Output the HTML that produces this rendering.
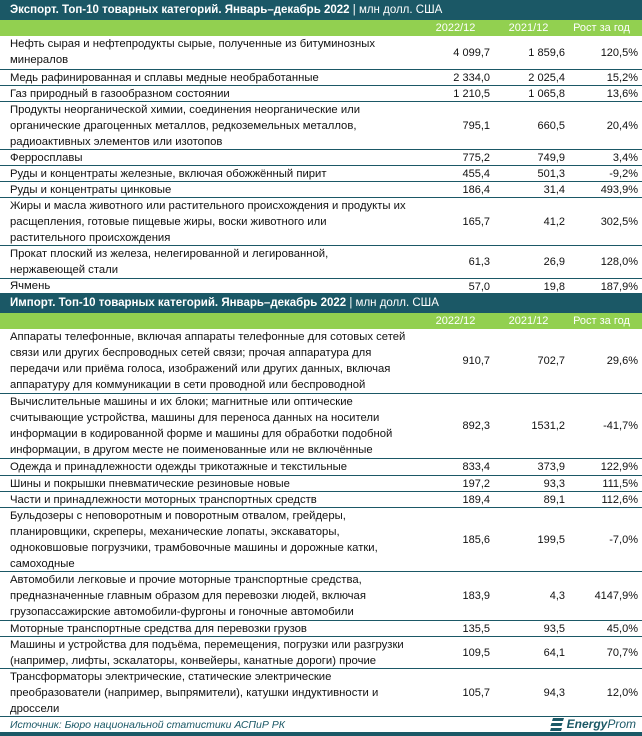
<!DOCTYPE html><html><head><meta charset="utf-8"><style>
*{margin:0;padding:0;box-sizing:border-box}
body{width:642px;height:736px;background:#fff;position:relative;overflow:hidden;font-family:"Liberation Sans",sans-serif;font-size:11px;color:#111}
.r{position:absolute;left:0;width:642px;border-bottom:1px solid #1b5866}
.t{position:absolute;left:0;width:642px;background:#1b5866;color:#fff;font-size:11.5px;line-height:20px;padding-left:10px}
.t b{font-weight:bold}
.h{position:absolute;left:0;width:642px;background:#92d050;color:#fff;height:16px;line-height:16px}
.l{position:absolute;left:10px;top:0;line-height:16px;white-space:nowrap;font-size:11.3px}
.v{position:absolute;top:0;bottom:0;display:flex;align-items:center;justify-content:flex-end}
.a{right:152px}.b{right:77px}.c{right:4px}
.hc{position:absolute;top:0;width:75px;text-align:center}
</style></head><body>
<div class="t" style="top:0;height:20px"><b>Экспорт. Топ-10 товарных категорий. Январь–декабрь 2022</b> | млн долл. США</div>
<div class="h" style="top:20px"><span class="hc" style="left:418px">2022/12</span><span class="hc" style="left:491px">2021/12</span><span class="hc" style="left:564px">Рост за год</span></div>

<div class="r" style="top:36px;height:34px"><div class="l">Нефть сырая и нефтепродукты сырые, полученные из битуминозных<br>минералов</div><div class="v a">4 099,7</div><div class="v b">1 859,6</div><div class="v c">120,5%</div></div>
<div class="r" style="top:70px;height:16px"><div class="l">Медь рафинированная и сплавы медные необработанные</div><div class="v a">2 334,0</div><div class="v b">2 025,4</div><div class="v c">15,2%</div></div>
<div class="r" style="top:86px;height:16px"><div class="l">Газ природный в газообразном состоянии</div><div class="v a">1 210,5</div><div class="v b">1 065,8</div><div class="v c">13,6%</div></div>
<div class="r" style="top:102px;height:48px"><div class="l">Продукты неорганической химии, соединения неорганические или<br>органические драгоценных металлов, редкоземельных металлов,<br>радиоактивных элементов или изотопов</div><div class="v a">795,1</div><div class="v b">660,5</div><div class="v c">20,4%</div></div>
<div class="r" style="top:150px;height:16px"><div class="l">Ферросплавы</div><div class="v a">775,2</div><div class="v b">749,9</div><div class="v c">3,4%</div></div>
<div class="r" style="top:166px;height:16px"><div class="l">Руды и концентраты железные, включая обожжённый пирит</div><div class="v a">455,4</div><div class="v b">501,3</div><div class="v c">-9,2%</div></div>
<div class="r" style="top:182px;height:16px"><div class="l">Руды и концентраты цинковые</div><div class="v a">186,4</div><div class="v b">31,4</div><div class="v c">493,9%</div></div>
<div class="r" style="top:198px;height:48px"><div class="l">Жиры и масла животного или растительного происхождения и продукты их<br>расщепления, готовые пищевые жиры, воски животного или<br>растительного происхождения</div><div class="v a">165,7</div><div class="v b">41,2</div><div class="v c">302,5%</div></div>
<div class="r" style="top:246px;height:33px"><div class="l">Прокат плоский из железа, нелегированной и легированной,<br>нержавеющей стали</div><div class="v a">61,3</div><div class="v b">26,9</div><div class="v c">128,0%</div></div>
<div class="r" style="top:279px;height:15px;border-bottom:none"><div class="l" style="top:-1px">Ячмень</div><div class="v a">57,0</div><div class="v b">19,8</div><div class="v c">187,9%</div></div>

<div class="t" style="top:293px;height:20px"><b>Импорт. Топ-10 товарных категорий. Январь–декабрь 2022</b> | млн долл. США</div>
<div class="h" style="top:313px"><span class="hc" style="left:418px">2022/12</span><span class="hc" style="left:491px">2021/12</span><span class="hc" style="left:564px">Рост за год</span></div>

<div class="r" style="top:329px;height:65px"><div class="l">Аппараты телефонные, включая аппараты телефонные для сотовых сетей<br>связи или других беспроводных сетей связи; прочая аппаратура для<br>передачи или приёма голоса, изображений или других данных, включая<br>аппаратуру для коммуникации в сети проводной или беспроводной</div><div class="v a">910,7</div><div class="v b">702,7</div><div class="v c">29,6%</div></div>
<div class="r" style="top:394px;height:65px"><div class="l">Вычислительные машины и их блоки; магнитные или оптические<br>считывающие устройства, машины для переноса данных на носители<br>информации в кодированной форме и машины для обработки подобной<br>информации, в другом месте не поименованные или не включённые</div><div class="v a">892,3</div><div class="v b">1531,2</div><div class="v c">-41,7%</div></div>
<div class="r" style="top:459px;height:17px"><div class="l">Одежда и принадлежности одежды трикотажные и текстильные</div><div class="v a">833,4</div><div class="v b">373,9</div><div class="v c">122,9%</div></div>
<div class="r" style="top:476px;height:16px"><div class="l">Шины и покрышки пневматические резиновые новые</div><div class="v a">197,2</div><div class="v b">93,3</div><div class="v c">111,5%</div></div>
<div class="r" style="top:492px;height:16px"><div class="l">Части и принадлежности моторных транспортных средств</div><div class="v a">189,4</div><div class="v b">89,1</div><div class="v c">112,6%</div></div>
<div class="r" style="top:508px;height:64px"><div class="l">Бульдозеры с неповоротным и поворотным отвалом, грейдеры,<br>планировщики, скреперы, механические лопаты, экскаваторы,<br>одноковшовые погрузчики, трамбовочные машины и дорожные катки,<br>самоходные</div><div class="v a">185,6</div><div class="v b">199,5</div><div class="v c">-7,0%</div></div>
<div class="r" style="top:572px;height:49px"><div class="l">Автомобили легковые и прочие моторные транспортные средства,<br>предназначенные главным образом для перевозки людей, включая<br>грузопассажирские автомобили-фургоны и гоночные автомобили</div><div class="v a">183,9</div><div class="v b">4,3</div><div class="v c">4147,9%</div></div>
<div class="r" style="top:621px;height:16px"><div class="l">Моторные транспортные средства для перевозки грузов</div><div class="v a">135,5</div><div class="v b">93,5</div><div class="v c">45,0%</div></div>
<div class="r" style="top:637px;height:32px"><div class="l">Машины и устройства для подъёма, перемещения, погрузки или разгрузки<br>(например, лифты, эскалаторы, конвейеры, канатные дороги) прочие</div><div class="v a">109,5</div><div class="v b">64,1</div><div class="v c">70,7%</div></div>
<div class="r" style="top:669px;height:48px"><div class="l">Трансформаторы электрические, статические электрические<br>преобразователи (например, выпрямители), катушки индуктивности и<br>дроссели</div><div class="v a">105,7</div><div class="v b">94,3</div><div class="v c">12,0%</div></div>

<div style="position:absolute;top:717px;left:10px;line-height:16px;font-style:italic;color:#1b5866;font-size:10.5px">Источник: Бюро национальной статистики АСПиР РК</div>
<div style="position:absolute;top:715px;right:6px;height:18px;display:flex;align-items:center;color:#1b5866;font-style:italic;font-weight:bold;font-size:12px">
<svg width="14" height="13" viewBox="0 0 14 13" style="margin-right:3px"><path d="M3 0h11l-1 3H2zM1.5 5h11l-1 3H0.5zM1 10h11l-1 3H0z" fill="#1b5866"/></svg>Energy<span style="font-weight:normal">Prom</span></div>
<div style="position:absolute;left:0;top:732px;width:642px;height:4px;background:#1b5866"></div>
</body></html>
